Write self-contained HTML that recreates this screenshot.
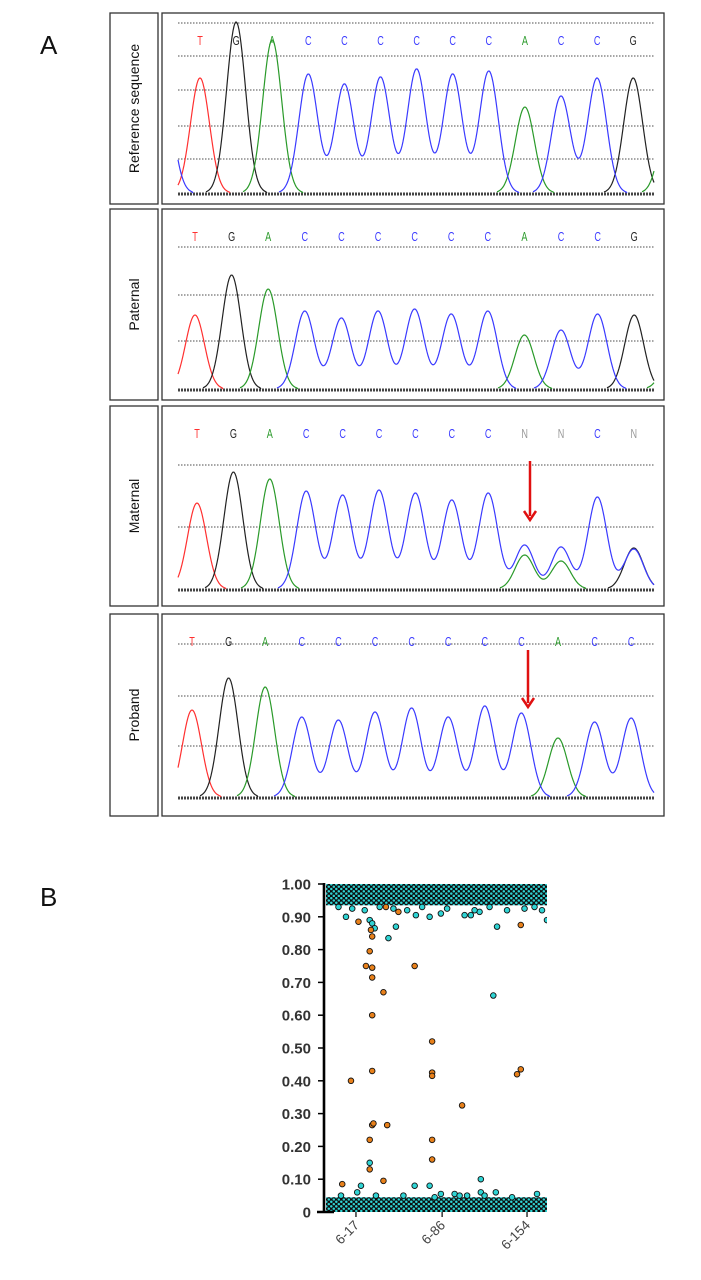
<!DOCTYPE html>
<html><head><meta charset="utf-8"><style>
html,body{margin:0;padding:0;background:#fff;}
svg{display:block;font-family:"Liberation Sans",Arial,sans-serif;}
</style></head><body>
<svg id="fig" width="701" height="1280" viewBox="0 0 701 1280" xmlns="http://www.w3.org/2000/svg">
<defs>
<pattern id="dots" width="5" height="4.6" patternUnits="userSpaceOnUse">
<rect width="5" height="4.6" fill="#0c0c0c"/>
<circle cx="1.3" cy="1.2" r="1.25" fill="#30d6d6"/>
<circle cx="3.8" cy="3.5" r="1.25" fill="#30d6d6"/>
</pattern>
<clipPath id="plotclip"><rect x="326" y="878" width="221" height="340"/></clipPath>
</defs>
<text x="40" y="54" font-size="26" fill="#111">A</text>
<text x="40" y="906" font-size="26" fill="#111">B</text>
<g id="chroma"></g>
<g id="scatter"></g>
</svg>
<script>
// ---------- Panel A data ----------
const p1Bases = "TGACCCCCCACCG";
const p1Heights = [115,171,153,119,109,116,124,119,122,86,97,115,115];
const p2Bases = "TGACCCCCCACCG";
const p2Heights = [74,114,100,78,71,78,80,75,78,54,59,75,74];
const p3Bases = "TGACCCCCCNNCN";
const p3Heights = [86,117,110,98,94,99,96,89,96,44,42,92,41];
const p3PeakColors = "TGACCCCCCCCCG";
const p3ExtraIdx = [9,10,12];
const p3ExtraColors = "AAC";
const p3ExtraHeights = [34,28,40];
const p4Bases = "TGACCCCCCCACC";
const p4Heights = [87,119,110,80,77,85,89,80,91,84,59,75,79];

const SVGNS = "http://www.w3.org/2000/svg";
const colorOf = {T:"#ff3030",G:"#222",A:"#2a9a2a",C:"#3a3aff",N:"#999"};
function mk(tag, attrs, parent){
  const e = document.createElementNS(SVGNS, tag);
  for (const k in attrs) e.setAttribute(k, attrs[k]);
  parent.appendChild(e); return e;
}
const chroma = document.getElementById('chroma');

const panels = [
 {title:"Reference sequence", top:13, bottom:204, base:193, grids:[23,56,90,126,159], letterY:45, x0:200, step:36.1,
  bases:p1Bases, heights:p1Heights, peakColors:p1Bases, extraIdx:[-1,13], extraColors:"CA", extraHeights:[100,80], name:"reference"},
 {title:"Paternal", top:209, bottom:400, base:389, grids:[247,295,341], letterY:241, x0:195, step:36.6,
  bases:p2Bases, heights:p2Heights, peakColors:p2Bases, extraIdx:[13], extraColors:"A", extraHeights:[30], name:"paternal"},
 {title:"Maternal", top:406, bottom:606, base:589, grids:[465,527], letterY:438, x0:197, step:36.4,
  bases:p3Bases, heights:p3Heights, peakColors:p3PeakColors, extraIdx:p3ExtraIdx, extraColors:p3ExtraColors, extraHeights:p3ExtraHeights, name:"maternal", arrow:[530,461,520]},
 {title:"Proband", top:614, bottom:816, base:797, grids:[644,696,746], letterY:646, x0:192, step:36.6,
  bases:p4Bases, heights:p4Heights, peakColors:p4Bases, extraIdx:[], extraColors:"", extraHeights:[], name:"proband", arrow:[528,650,707]}
];
const PX0 = 178, PX1 = 654, SIG = 9.5;

panels.forEach(p => {
  const g = mk('g', {}, chroma);
  
  
  const lb = mk('rect', {x:110, y:p.top, width:48, height:p.bottom-p.top, fill:'none', stroke:'#333', 'stroke-width':1.3}, g);
  
  
  const cy = (p.top+p.bottom)/2;
  const t = mk('text', {x:0, y:0, 'font-size':14, fill:'#111', 'text-anchor':'middle', transform:`translate(139,${cy}) rotate(-90)`}, g);
  t.textContent = p.title;
  
  
  const bx = mk('rect', {x:162, y:p.top, width:502, height:p.bottom-p.top, fill:'none', stroke:'#333', 'stroke-width':1.3}, g);
  
  
  p.grids.forEach(gy => {
    const l = mk('line', {x1:PX0, x2:PX1, y1:gy, y2:gy, stroke:'#888', 'stroke-width':1.5, 'stroke-dasharray':'1.5 1.5'}, g);
    
    
  });
  const bl = mk('line', {x1:PX0, x2:PX1, y1:p.base+1, y2:p.base+1, stroke:'#444', 'stroke-width':3, 'stroke-dasharray':'2 1'}, g);
  
  
  for (let i=0;i<p.bases.length;i++){
    const ch = p.bases[i];
    const lt = mk('text', {x:0, y:0, 'font-size':13, 'text-anchor':'middle', fill:colorOf[ch], transform:`translate(${p.x0+i*p.step},${p.letterY}) scale(0.7,1)`}, g);
    lt.textContent = ch;
    
    
  }
  const peaks = [];
  for (let i=0;i<p.heights.length;i++) peaks.push({c:p.x0+i*p.step, h:p.heights[i], col:p.peakColors[i]});
  for (let k=0;k<p.extraIdx.length;k++) peaks.push({c:p.x0+p.extraIdx[k]*p.step, h:p.extraHeights[k], col:p.extraColors[k]});
  ['T','G','A','C'].forEach(col => {
    const mine = peaks.filter(q=>q.col===col);
    if (!mine.length) return;
    let d = '', on = false;
    for (let x=PX0; x<=PX1; x+=1){
      let v = 0; mine.forEach(q=>{ v += q.h*Math.exp(-((x-q.c)**2)/(2*SIG*SIG)); });
      if (v > 1){ d += (on?'L':'M') + x + ' ' + (p.base - v).toFixed(1) + ' '; on = true; }
      else { if (on) d += 'L' + x + ' ' + p.base + ' '; on = false; }
    }
    const path = mk('path', {d:d, fill:'none', stroke:colorOf[col], 'stroke-width':1.2}, g);
    
    
  });
  if (p.arrow){
    const [ax, ay1, ay2] = p.arrow;
    const ar = mk('g', {}, g);
    
    
    mk('line', {x1:ax, x2:ax, y1:ay1, y2:ay2-4, stroke:'#e01010', 'stroke-width':2.5}, ar);
    mk('path', {d:`M${ax-6} ${ay2-9} L${ax} ${ay2} L${ax+6} ${ay2-9}`, fill:'none', stroke:'#e01010', 'stroke-width':2.5}, ar);
  }
});

// ---------- Panel B data ----------
const yTicks = [1.0,0.9,0.8,0.7,0.6,0.5,0.4,0.3,0.2,0.1,0];
const yTickLabels = ["1.00","0.90","0.80","0.70","0.60","0.50","0.40","0.30","0.20","0.10","0"];
const xTickIdx = [17,86,154];
const xTickLabels = ["6-17","6-86","6-154"];
const orangeIdx = [6,13,19,25,30,30,28,30,29,30,30,30,31,28,28,39,39,41,42,51,64,78,78,78,78,78,102,146,149,149];
const orangeVal = [0.085,0.40,0.885,0.75,0.745,0.715,0.795,0.84,0.86,0.60,0.43,0.265,0.27,0.22,0.13,0.67,0.095,0.93,0.265,0.915,0.75,0.52,0.425,0.415,0.22,0.16,0.325,0.42,0.435,0.875];
const cyanIdx = [9,28,30,32,28,43,49,65,76,85,104,109,116,130,127,117,64,76,129,117,170,21,85,96,106,3,14,24,36,47,58,70,90,112,124,138,152,160,166,5,18,33,55,80,100,120,142,162];
const cyanVal = [0.90,0.89,0.88,0.865,0.15,0.835,0.87,0.905,0.90,0.91,0.905,0.905,0.915,0.87,0.66,0.10,0.08,0.08,0.06,0.06,0.89,0.08,0.055,0.055,0.05,0.93,0.925,0.92,0.93,0.925,0.92,0.93,0.925,0.92,0.93,0.92,0.925,0.93,0.92,0.05,0.06,0.05,0.05,0.045,0.05,0.05,0.045,0.055];

const sc = document.getElementById('scatter');
const X0 = -7, X1 = 170, XP0 = 326, XP1 = 547;
const YP0 = 1212, YP1 = 884;
function xs(i){ return XP0 + (i - X0)/(X1 - X0)*(XP1 - XP0); }
function ys(v){ return YP0 - v*(YP0 - YP1); }

const bandTop = mk('rect', {x:XP0, y:ys(1.0), width:XP1-XP0, height:ys(0.935)-ys(1.0), fill:'url(#dots)'}, sc);


const bandBot = mk('rect', {x:XP0, y:ys(0.045), width:XP1-XP0, height:ys(0)-ys(0.045), fill:'url(#dots)'}, sc);



const pts = mk('g', {'clip-path':'url(#plotclip)'}, sc);


for (let i=0;i<cyanIdx.length;i++){
  const c = mk('circle', {cx:xs(cyanIdx[i]), cy:ys(cyanVal[i]), r:2.8, fill:'#2fd4d4', stroke:'#111', 'stroke-width':0.9}, pts);
  
  
}
for (let i=0;i<orangeIdx.length;i++){
  const c = mk('circle', {cx:xs(orangeIdx[i]), cy:ys(orangeVal[i]), r:2.8, fill:'#e8801a', stroke:'#111', 'stroke-width':0.9}, pts);
  
  
}
const yAxis = mk('line', {x1:324, x2:324, y1:ys(1.0)-1, y2:YP0+1, stroke:'#000', 'stroke-width':2.6}, sc);


const xAxis = mk('line', {x1:317, x2:XP0+8, y1:YP0, y2:YP0, stroke:'#000', 'stroke-width':2.6}, sc);


for (let i=0;i<yTicks.length;i++){
  const y = ys(yTicks[i]);
  mk('line', {x1:318, x2:324, y1:y, y2:y, stroke:'#000', 'stroke-width':1.5}, sc);
  const t = mk('text', {x:311, y:y+5.5, 'font-size':15, 'font-weight':'bold', fill:'#333', 'text-anchor':'end'}, sc);
  t.textContent = yTickLabels[i];
  
  
}
for (let i=0;i<xTickIdx.length;i++){
  const x = xs(xTickIdx[i]);
  mk('line', {x1:x, x2:x, y1:YP0, y2:YP0+5, stroke:'#000', 'stroke-width':1.2}, sc);
  const t = mk('text', {x:0, y:0, 'font-size':13.5, fill:'#444', 'text-anchor':'end', transform:`translate(${x+4},${YP0+14}) rotate(-45)`}, sc);
  t.textContent = xTickLabels[i];
  
  
}
</script>
</body></html>
